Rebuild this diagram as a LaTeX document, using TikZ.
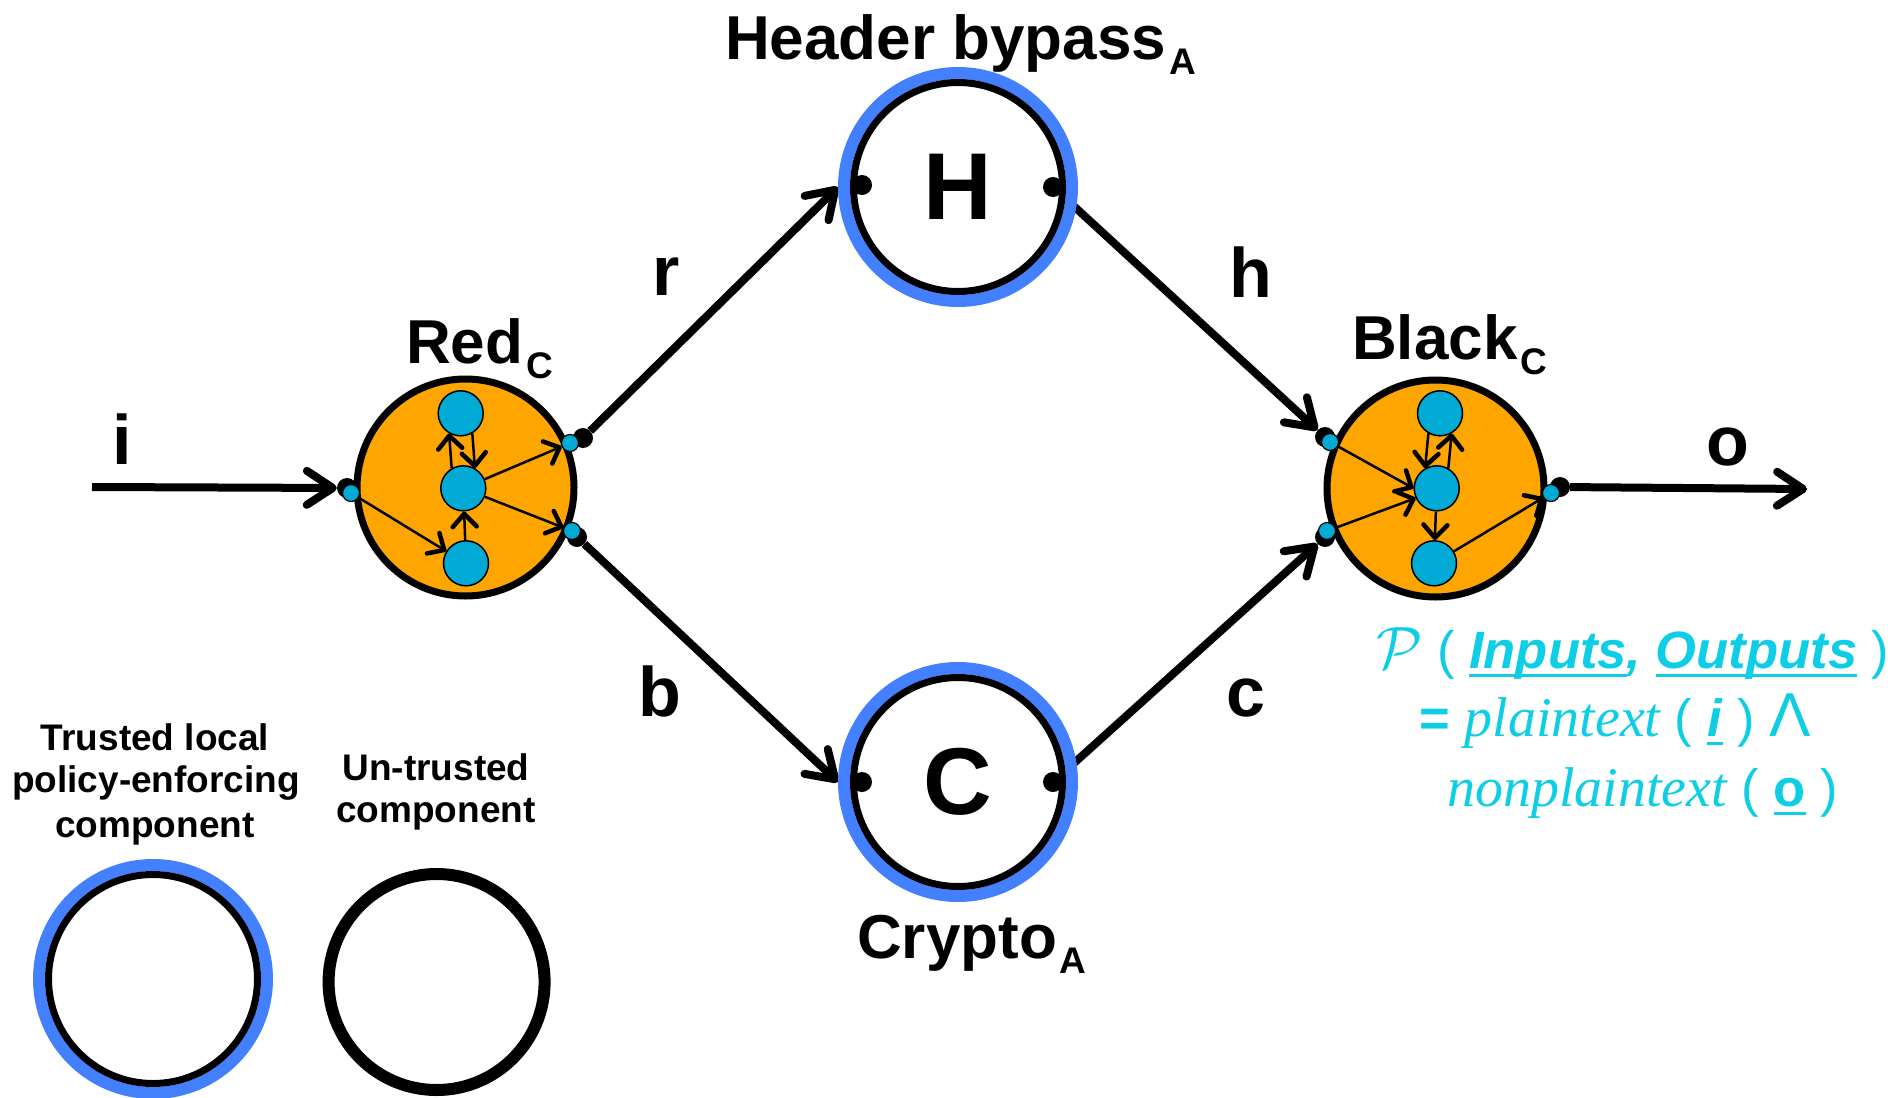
\documentclass[tikz,border=0pt]{standalone}
\usepackage{fontspec}
\usepackage{graphicx}
\newfontfamily\lsans{Liberation Sans}
\newfontfamily\lserif{Liberation Serif}
\usetikzlibrary{arrows.meta,backgrounds}
\definecolor{ringblue}{RGB}{66,128,255}
\definecolor{orng}{RGB}{255,165,0}
\definecolor{cyn}{RGB}{0,170,212}
\definecolor{fcyan}{RGB}{14,206,230}
\newcommand\fs[1]{\fontsize{#1}{#1}\selectfont}
\newcommand\lab[2]{#1\kern3pt\raisebox{-15pt}{\fs{37}#2}}
\newcommand\uln[1]{\setbox0\hbox{#1}\rlap{\rule[-9pt]{\wd0}{3pt}}\box0}
\newcommand\Pcal{{\fontsize{24.88}{30}\selectfont\scalebox{2.4}{$\mathcal{P}$}}}
\newcommand\caltxt[1]{{\lserif\itshape\fs{56}#1}}
\tikzset{
  lbl/.style={font=\lsans\bfseries\fs{62}, inner sep=0pt, anchor=base west},
  elbl/.style={font=\lsans\bfseries\fs{70}, inner sep=0pt, anchor=base},
  leg/.style={font=\lsans\bfseries\fs{37}, inner sep=0pt, anchor=base},
  fml/.style={font=\lsans\fs{52.5}, text=fcyan, inner sep=0pt, anchor=base west},
  compo/.style={circle, draw=black, line width=7pt, fill=orng, minimum size=217pt, inner sep=0pt},
  trustring/.style={circle, draw=ringblue, line width=12pt, fill=white, minimum size=228pt, inner sep=0pt},
  subnode/.style={circle, draw=black, line width=1.5pt, fill=cyn, minimum size=45pt, inner sep=0pt},
  portdot/.style={circle, draw=black, line width=1.2pt, fill=cyn, minimum size=17pt, inner sep=0pt},
  pindot/.style={circle, fill=black, minimum size=20pt, inner sep=0pt},
  conn/.style={line width=8pt, -{Straight Barb[length=26pt,width=34pt,round]}},
  iarr/.style={line width=2.5pt, -{Straight Barb[length=13pt,width=24pt,line width=4.5pt,round]}},
}
\begin{document}
\begin{tikzpicture}[x=1pt,y=-1pt]
\useasboundingbox (0,0) rectangle (1902,1097);

% trusted components
\node[trustring, font=\lsans\bfseries\fs{95}] (H) at (958,187) {H};
\draw[line width=7pt] (H.center) circle (104.5pt);
\node[trustring, font=\lsans\bfseries\fs{95}] (C) at (958,782) {C};
\draw[line width=7pt] (C.center) circle (104.5pt);
\node[pindot] (Hin) at (862,185) {};
\node[pindot] (Hout) at (1053,187) {};
\node[pindot] (Cin) at (862,782) {};
\node[pindot] (Cout) at (1053,782) {};

% Red component
\node[compo] (Red) at (465.5,487.5) {};
\node[subnode] (T1) at (460.7,413.3) {};
\node[subnode] (M1) at (463.3,488.3) {};
\node[subnode] (B1) at (466,563.3) {};
\node[pindot] (RLd) at (347,488) {};
\node[pindot] (RUd) at (583,438) {};
\node[pindot] (RDd) at (577,537) {};
\node[portdot] (RLp) at (351,493) {};
\node[portdot] (RUp) at (570,443) {};
\node[portdot] (RDp) at (572,531) {};
\draw[iarr] (RLp) -- (B1);
\draw[iarr] (B1) -- (M1);
\draw[iarr] (M1.120) -- (T1.240);
\draw[iarr] (T1.300) -- (M1.60);
\draw[iarr] (M1) -- (RUp);
\draw[iarr] (M1) -- (RDp);

% Black component
\node[compo] (Blk) at (1435.5,488.5) {};
\node[subnode] (T2) at (1440,413.3) {};
\node[subnode] (M2) at (1436.7,488.3) {};
\node[subnode] (B2) at (1434,563.3) {};
\node[pindot] (BUd) at (1325,437) {};
\node[pindot] (BDd) at (1325,537) {};
\node[pindot] (BRd) at (1560,487) {};
\node[portdot] (BUp) at (1330,442) {};
\node[portdot] (BDp) at (1327,531) {};
\node[portdot] (BRp) at (1551,493) {};
\draw[iarr] (BUp) -- (M2.west);
\draw[iarr] (BDp) -- (M2.205);
\draw[iarr] (T2.240) -- (M2.120);
\draw[iarr] (M2.60) -- (T2.300);
\draw[iarr] (M2) -- (B2);
\draw[iarr] (B2) -- (BRp);

% main connectors (under the rings)
\begin{scope}[on background layer]
  \fill[white] (0,0) rectangle (1902,1097);
  \coordinate (iS) at (92,487);
  \coordinate (oE) at (1807,489);
  \draw[conn] (iS) -- (RLd);
  \draw[conn] (RUd) -- (H.west);
  \draw[conn] (Hout) -- (BUd);
  \draw[conn] (RDd) -- (C.west);
  \draw[conn] (Cout) -- (BDd);
  \draw[conn] (BRd) -- (oE);
\end{scope}

% component labels
\node[lbl] (lRed) at (406,363) {\lab{Red}{C}};
\node[lbl] (lBlk) at (1352,359) {\lab{Black}{C}};
\node[lbl] (lHdr) at (725,60) {\lab{Header bypass}{A}};
\node[lbl] (lCry) at (857,958) {\lab{Crypto}{A}};

% edge labels
\node[elbl] (li) at (122,464) {i};
\node[elbl] (lo) at (1728,465) {o};
\node[elbl] (lr) at (666,295) {r};
\node[elbl] (lh) at (1251,297) {h};
\node[elbl] (lb) at (660,716) {b};
\node[elbl] (lc) at (1246,716) {c};

% formula
\node[fml] (f1) at (1376,668) {\Pcal\ (\ \uln{\textbf{\textit{Inputs}}}\textbf{\textit{,}}\ \uln{\textbf{\textit{Outputs}}}\ )};
\node[fml] (f2) at (1419,736) {\textbf{=}\ \caltxt{plaintext}\ (\ \uln{\textbf{\textit{i}}}\ )\ {\fs{62}Λ}};
\node[fml] (f3) at (1447,806) {\caltxt{nonplaintext}\ (\ \uln{\textbf{o}}\ )};

% legend
\node[leg] (lt1) at (155,750) {Trusted local};
\node[leg] (lt2) at (156,792) {policy-enforcing};
\node[leg] (lt3) at (155,837) {component};
\node[leg] (lu1) at (436,780) {Un-trusted};
\node[leg] (lu2) at (436,822) {component};
\node[trustring] (LT) at (153,979) {};
\draw[line width=7pt] (LT.center) circle (104.5pt);
\node[circle, draw=black, line width=12pt, minimum size=216pt, inner sep=0pt] (LU) at (436.6,982) {};
\end{tikzpicture}
\end{document}
